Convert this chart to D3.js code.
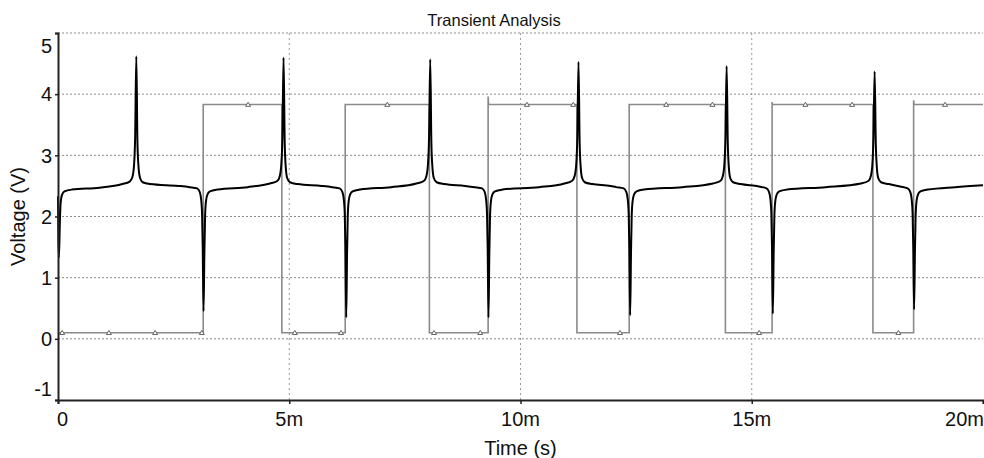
<!DOCTYPE html>
<html lang="en">
<head>
<meta charset="UTF-8">
<title>Transient Analysis</title>
<script src="https://d3js.org/d3.v7.min.js"></script>
<style>
    body {
        margin: 0;
        background: white;
    }
    svg text {
        font-family: "Liberation Sans", Arial, sans-serif;
        fill: #111;
    }
</style>
</head>
<body>
<script>
// time values are in ms, voltages in V

// black trace: output voltage (t, v)
var outputTrace = [
    [0, 2.33], [0.01, 1.6], [0.02, 1.33], [0.04, 1.9], [0.055, 2.2], [0.085, 2.35], [0.14, 2.41], [0.30, 2.44],
    [0.9, 2.47],
    [1.39, 2.53], [1.55, 2.57], [1.61, 2.65], [1.645, 2.85], [1.668, 3.3], [1.693, 4.62], [1.718, 3.2], [1.742, 2.8], [1.775, 2.63], [1.83, 2.56], [1.99, 2.53],
    [2.6, 2.50],
    [2.85, 2.48], [3.01, 2.46], [3.065, 2.40], [3.095, 2.28], [3.115, 2.05], [3.129, 1.5], [3.147, 0.45], [3.165, 1.4], [3.18, 2.0], [3.2, 2.25], [3.232, 2.36], [3.285, 2.41], [3.45, 2.44],
    [4.1, 2.48],
    [4.58, 2.54], [4.74, 2.58], [4.795, 2.66], [4.828, 2.85], [4.852, 3.3], [4.877, 4.60], [4.902, 3.2], [4.925, 2.8], [4.955, 2.63], [5.015, 2.56], [5.18, 2.53],
    [5.7, 2.50],
    [5.93, 2.48], [6.09, 2.46], [6.15, 2.40], [6.18, 2.28], [6.20, 2.05], [6.214, 1.5], [6.232, 0.35], [6.25, 1.4], [6.265, 2.0], [6.285, 2.25], [6.317, 2.36], [6.37, 2.41], [6.53, 2.44],
    [7.2, 2.48],
    [7.75, 2.54], [7.91, 2.58], [7.965, 2.66], [7.999, 2.85], [8.023, 3.3], [8.048, 4.57], [8.073, 3.2], [8.096, 2.8], [8.126, 2.63], [8.186, 2.56], [8.35, 2.53],
    [8.8, 2.50],
    [9.01, 2.48], [9.17, 2.46], [9.226, 2.40], [9.256, 2.28], [9.276, 2.05], [9.29, 1.5], [9.308, 0.35], [9.326, 1.4], [9.341, 2.0], [9.361, 2.25], [9.393, 2.36], [9.446, 2.41], [9.61, 2.44],
    [10.4, 2.48],
    [10.95, 2.54], [11.11, 2.58], [11.17, 2.66], [11.205, 2.85], [11.229, 3.3], [11.254, 4.53], [11.279, 3.2], [11.302, 2.8], [11.332, 2.63], [11.39, 2.56], [11.55, 2.53],
    [11.95, 2.50],
    [12.07, 2.48], [12.23, 2.46], [12.289, 2.40], [12.319, 2.28], [12.339, 2.05], [12.353, 1.5], [12.371, 0.385], [12.389, 1.4], [12.404, 2.0], [12.424, 2.25], [12.456, 2.36], [12.509, 2.41], [12.67, 2.44],
    [13.5, 2.48],
    [14.16, 2.54], [14.32, 2.58], [14.374, 2.66], [14.408, 2.85], [14.432, 3.3], [14.457, 4.46], [14.482, 3.2], [14.505, 2.8], [14.535, 2.63], [14.595, 2.56], [14.76, 2.53],
    [15.16, 2.49], [15.32, 2.46], [15.374, 2.40], [15.404, 2.28], [15.424, 2.05], [15.438, 1.5], [15.456, 0.41], [15.474, 1.4], [15.489, 2.0], [15.509, 2.25], [15.541, 2.36], [15.594, 2.41], [15.76, 2.44],
    [16.6, 2.48],
    [17.36, 2.54], [17.52, 2.58], [17.574, 2.66], [17.608, 2.85], [17.632, 3.3], [17.657, 4.37], [17.682, 3.2], [17.705, 2.8], [17.735, 2.63], [17.795, 2.56], [17.96, 2.53],
    [18.21, 2.49], [18.37, 2.46], [18.428, 2.40], [18.458, 2.28], [18.478, 2.05], [18.492, 1.5], [18.51, 0.48], [18.528, 1.4], [18.543, 2.0], [18.563, 2.25], [18.595, 2.36], [18.648, 2.41], [18.81, 2.44],
    [19.4, 2.48], [20, 2.51]
];

// grey trace: input square wave (t, v)
var inputTrace = [
    [0, 0.1], [3.14, 0.1], [3.14, 3.83], [4.84, 3.83], [4.84, 0.1],
    [6.21, 0.1], [6.21, 3.83], [8.03, 3.83], [8.03, 0.1],
    [9.30, 0.1], [9.30, 3.96], [9.31, 3.83], [11.22, 3.83], [11.22, 0.1],
    [12.35, 0.1], [12.35, 3.83], [14.43, 3.83], [14.43, 0.1],
    [15.44, 0.1], [15.44, 3.87], [15.45, 3.83], [17.62, 3.83], [17.62, 0.1],
    [18.50, 0.1], [18.50, 3.90], [18.51, 3.83], [20, 3.83]
];

// little triangles sitting on the grey trace
var markerTimes = [0.09, 1.10, 2.10, 3.11, 4.11, 5.12, 6.12, 7.12, 8.13, 9.13,
                   10.14, 11.14, 12.15, 13.15, 14.15, 15.16, 16.16, 17.17, 18.17, 19.18];
var markerValues = [0.1, 0.1, 0.1, 0.1, 3.83, 0.1, 0.1, 3.83, 0.1, 0.1,
                    3.83, 3.83, 0.1, 3.83, 3.83, 0.1, 3.83, 3.83, 0.1, 3.83];

var xTicks = [0, 5, 10, 15, 20];
var xTickLabels = ["0", "5m", "10m", "15m", "20m"];
var yTicks = [-1, 0, 1, 2, 3, 4, 5];

var width = 984, height = 458;
var margin = {top: 33, right: 1, bottom: 58, left: 58};

var svg = d3.select("body").append("svg")
    .attr("width", width)
    .attr("height", height);

var x = d3.scaleLinear()
    .domain([0, 20])
    .range([margin.left, width - margin.right]);

var y = d3.scaleLinear()
    .domain([-1, 5])
    .range([height - margin.bottom, margin.top]);

// title
svg.append("text")
    .attr("x", 494)
    .attr("y", 26)
    .attr("text-anchor", "middle")
    .style("font-size", "16.5px")
    .text("Transient Analysis");

// dotted grid
svg.append("g").selectAll("line")
    .data(yTicks.filter(function (d) { return d >= 0; }))
    .enter().append("line")
    .attr("x1", x(0))
    .attr("x2", x(20))
    .attr("y1", function (d) { return y(d); })
    .attr("y2", function (d) { return y(d); })
    .attr("stroke", "#8c8c8c")
    .attr("stroke-width", 1)
    .attr("stroke-dasharray", "2,2");

svg.append("g").selectAll("line")
    .data(xTicks.slice(1, 4))
    .enter().append("line")
    .attr("x1", function (d) { return x(d); })
    .attr("x2", function (d) { return x(d); })
    .attr("y1", y(5))
    .attr("y2", y(-1))
    .attr("stroke", "#9a9a9a")
    .attr("stroke-width", 1)
    .attr("stroke-dasharray", "2,3");

var line = d3.line()
    .x(function (d) { return x(d[0]); })
    .y(function (d) { return y(d[1]); });

// input square wave
svg.append("path")
    .datum(inputTrace)
    .attr("d", line)
    .attr("fill", "none")
    .attr("stroke", "#8a8a8a")
    .attr("stroke-width", 1.6);

var tri = "M0,-2.3L2.5,1.8L-2.5,1.8Z";
svg.append("g").selectAll("path")
    .data(markerTimes)
    .enter().append("path")
    .attr("transform", function (d, i) {
        return "translate(" + x(d) + "," + y(markerValues[i]) + ")";
    })
    .attr("d", tri)
    .attr("fill", "white")
    .attr("stroke", "#555")
    .attr("stroke-width", 0.9);

// output trace
svg.append("path")
    .datum(outputTrace)
    .attr("d", line.curve(d3.curveMonotoneX))
    .attr("fill", "none")
    .attr("stroke", "#000")
    .attr("stroke-width", 2)
    .attr("stroke-linejoin", "round");

// axes
var xAxis = d3.axisBottom(x)
    .tickValues(xTicks)
    .tickSize(4)
    .tickFormat("");

var yAxis = d3.axisLeft(y)
    .tickValues(yTicks)
    .tickSize(3)
    .tickFormat("");

var gx = svg.append("g")
    .attr("transform", "translate(0," + y(-1) + ")")
    .call(xAxis);

var gy = svg.append("g")
    .attr("transform", "translate(" + x(0) + ",0)")
    .call(yAxis);

[gx, gy].forEach(function (g) {
    g.select(".domain").attr("stroke", "#222").attr("stroke-width", 2);
    g.selectAll(".tick line").attr("stroke", "#222").attr("stroke-width", 1.5);
});

// tick labels, ends pulled inside the plot like the original
svg.append("g").selectAll("text")
    .data(xTicks)
    .enter().append("text")
    .attr("x", function (d, i) {
        if (i === 0) return x(d) - 1;
        if (i === xTicks.length - 1) return x(d) + 1;
        return x(d);
    })
    .attr("y", 426)
    .attr("text-anchor", function (d, i) {
        if (i === 0) return "start";
        if (i === xTicks.length - 1) return "end";
        return "middle";
    })
    .style("font-size", "20px")
    .text(function (d, i) { return xTickLabels[i]; });

svg.append("g").selectAll("text")
    .data(yTicks)
    .enter().append("text")
    .attr("x", 52)
    .attr("y", function (d) {
        var p = y(d);
        p = Math.max(p, y(5) + 13);
        p = Math.min(p, y(-1) - 11);
        return p;
    })
    .attr("dy", "0.36em")
    .attr("text-anchor", "end")
    .style("font-size", "20px")
    .text(function (d) { return d; });

// axis titles
svg.append("text")
    .attr("x", (x(0) + x(20)) / 2)
    .attr("y", 455)
    .attr("text-anchor", "middle")
    .style("font-size", "20px")
    .text("Time (s)");

svg.append("text")
    .attr("transform", "translate(25," + ((y(5) + y(-1)) / 2) + ") rotate(-90)")
    .attr("text-anchor", "middle")
    .style("font-size", "20px")
    .text("Voltage (V)");
</script>
</body>
</html>
